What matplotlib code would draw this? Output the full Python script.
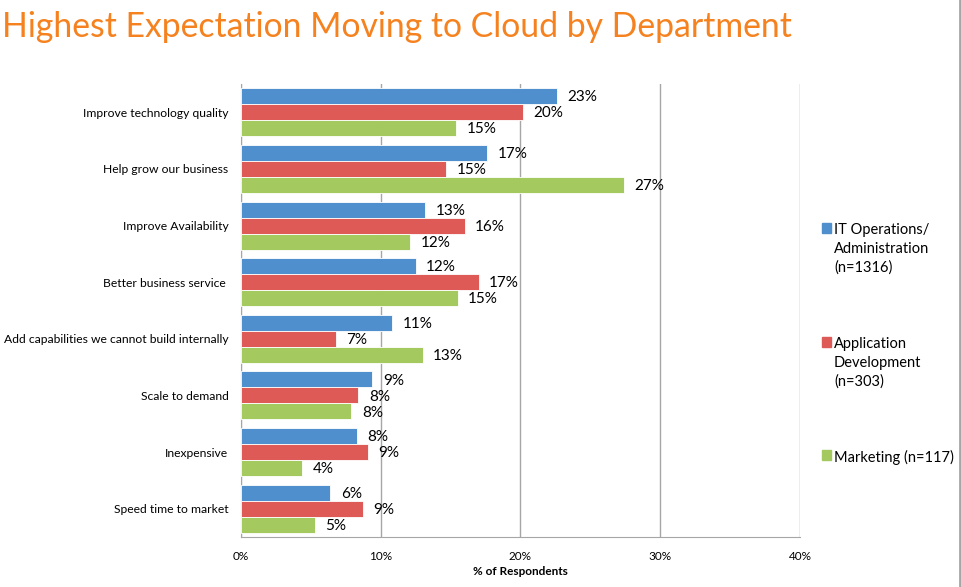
import numpy as np
import matplotlib.pyplot as plt
from matplotlib.patches import Rectangle
from matplotlib.lines import Line2D

plt.rcParams['font.family'] = ['Lato', 'DejaVu Sans']

# Data (bar lengths, labels as printed)
categories = ["Improve technology quality", "Help grow our business", "Improve Availability",
              "Better business service ", "Add capabilities we cannot build internally",
              "Scale to demand", "Inexpensive", "Speed time to market"]
it_ops = [22.6, 17.6, 13.2, 12.5, 10.8, 9.4, 8.3, 6.4]
app_dev = [20.2, 14.7, 16.0, 17.0, 6.8, 8.4, 9.1, 8.7]
marketing = [15.4, 27.4, 12.1, 15.5, 13.0, 7.9, 4.4, 5.3]
it_labels = [23, 17, 13, 12, 11, 9, 8, 6]
app_labels = [20, 15, 16, 17, 7, 8, 9, 9]
mkt_labels = [15, 27, 12, 15, 13, 8, 4, 5]
series_names = ["IT Operations/\nAdministration\n(n=1316)", "Application\nDevelopment\n(n=303)",
                "Marketing (n=117)"]
colors = ["#4F8FCE", "#DE5A57", "#A3C95F"]

fig = plt.figure(figsize=(9.62, 5.87), dpi=100)
ax = fig.add_axes([241 / 962, 50 / 587, 559 / 962, 453 / 587])

y = np.arange(len(categories))
h = 0.283
series = [(it_ops, it_labels), (app_dev, app_labels), (marketing, mkt_labels)]
for k, (vals, labs) in enumerate(series):
    pos = y + (k - 1) * h
    ax.barh(pos, vals, height=h, color=colors[k], edgecolor="white", linewidth=0.6, zorder=3)
    for p, v, lab in zip(pos, vals, labs):
        ax.text(v + 0.75, p + 0.02, f"{lab}%", va="center", ha="left", fontsize=11, zorder=4)

ax.set_ylim(len(categories) - 0.5, -0.5)
ax.set_xlim(0, 40)
ax.set_xticks([0, 10, 20, 30, 40])
ax.set_xticklabels(["0%", "10%", "20%", "30%", "40%"], fontsize=8.5)
ax.set_yticks(y)
ax.set_yticklabels(categories, fontsize=8.7)
ax.tick_params(axis="both", length=0)
ax.tick_params(axis="x", pad=10)
ax.tick_params(axis="y", pad=9)
ax.grid(axis="x", color="#A6A6A6", linewidth=1, zorder=0)
for s in ["top", "right"]:
    ax.spines[s].set_visible(False)
for s in ["left", "bottom"]:
    ax.spines[s].set_color("#A6A6A6")
ax.set_xlabel("% of Respondents", fontsize=8.5, fontweight="bold", labelpad=3)

fig.text(2 / 962, 1 - 27 / 587, "Highest Expectation Moving to Cloud by Department",
         color="#F5821F", fontsize=24.3, va="center", ha="left")

# legend
leg_y = [228, 342, 455]
for name, c, yy in zip(series_names, colors, leg_y):
    fig.add_artist(Rectangle((822 / 962, 1 - (yy + 5) / 587), 9 / 962, 10 / 587,
                             transform=fig.transFigure, color=c))
    fig.text(834 / 962, 1 - (yy - 5) / 587, name, fontsize=10.5, va="top", ha="left",
             linespacing=1.42)

fig.add_artist(Line2D([960 / 962, 960 / 962], [0, 1], transform=fig.transFigure,
                      color="#A6A6A6", linewidth=2))

fig.savefig("out.png", dpi=100)
